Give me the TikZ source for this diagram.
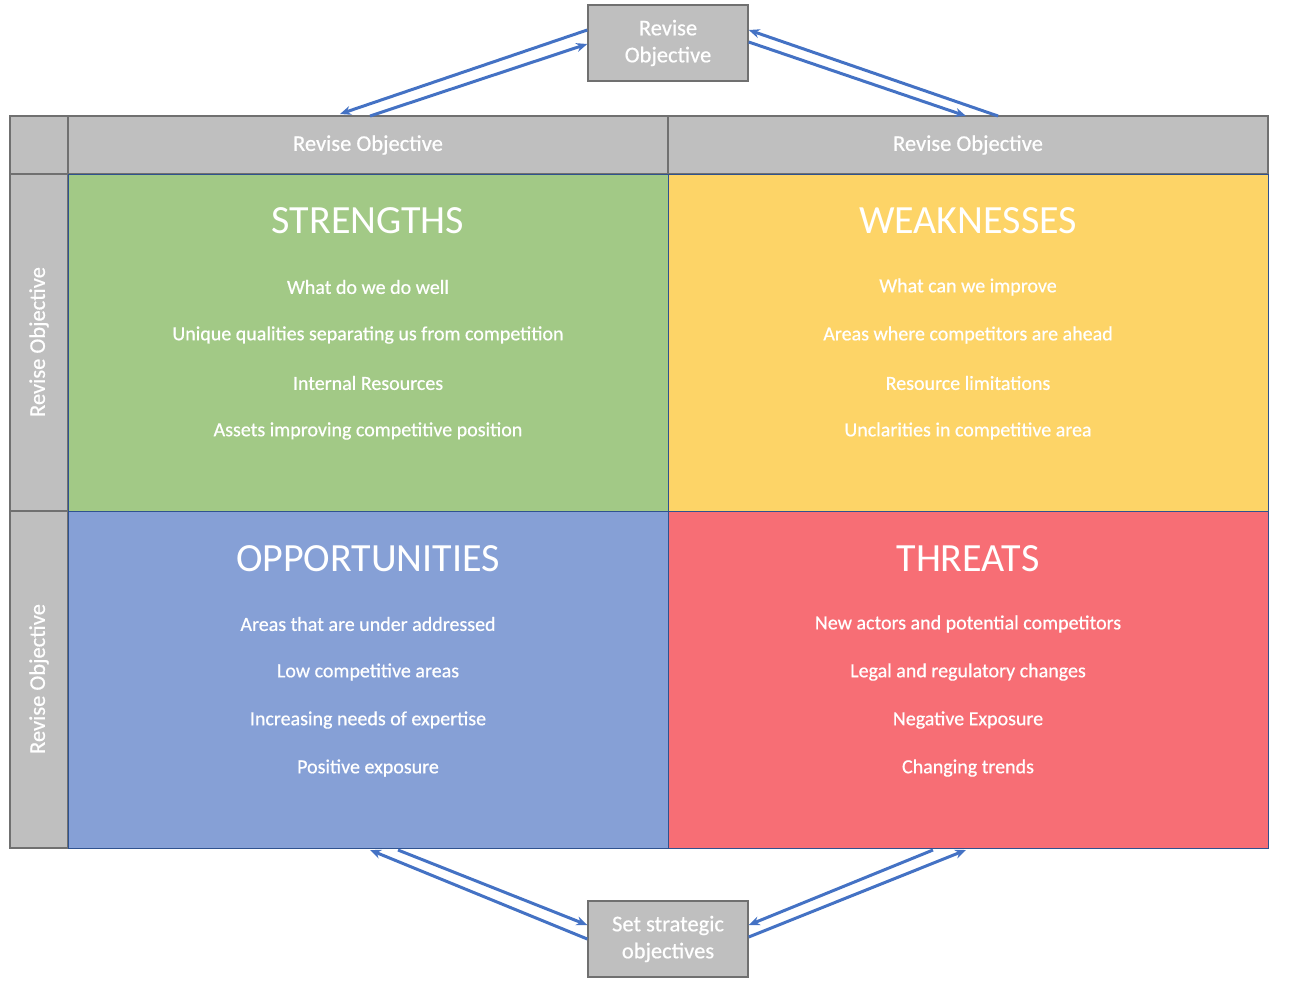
\documentclass[tikz,border=0pt]{standalone}
\usepackage{fontspec}
\setmainfont{Carlito}
\newfontfamily\boldish[FakeBold=0.6]{Carlito}
\usetikzlibrary{arrows.meta}
\definecolor{cgray}{HTML}{BFBFBF}
\definecolor{cgrayline}{HTML}{707070}
\definecolor{cgreen}{HTML}{A2C986}
\definecolor{cyellow}{HTML}{FDD467}
\definecolor{cblue}{HTML}{86A0D6}
\definecolor{cred}{HTML}{F76E75}
\definecolor{cquadline}{HTML}{2F528F}
\definecolor{carrow}{HTML}{4472C4}
\begin{document}
\begin{tikzpicture}[x=1pt,y=-1pt,
  graycell/.style={draw=cgrayline,fill=cgray,line width=1.4pt},
  quad/.style={draw=cquadline,line width=1pt},
  celltext/.style={text=white,font=\boldish\fontsize{22.5}{27}\selectfont},
  headtext/.style={text=white,font=\fontsize{40}{44}\selectfont},
  itemtext/.style={text=white,font=\boldish\fontsize{20}{24}\selectfont},
  flow/.style={draw=carrow,line width=3pt,-{Stealth[length=11pt,width=9pt]}}]
\useasboundingbox (0,0) rectangle (1290,988);
% gray header cells
\draw[graycell] (10,116) rectangle (68,174);
\draw[graycell] (68,116) rectangle (668,174);
\draw[graycell] (668,116) rectangle (1268,174);
\draw[graycell] (10,174) rectangle (68,511);
\draw[graycell] (10,511) rectangle (68,848);
\node[celltext] (h1) at (368,145) {Revise Objective};
\node[celltext] (h2) at (968,145) {Revise Objective};
\node[celltext,rotate=90] (v1) at (39,342) {Revise Objective};
\node[celltext,rotate=90] (v2) at (39,679) {Revise Objective};
% quadrants
\draw[quad,fill=cgreen] (68,174) rectangle (668,511);
\draw[quad,fill=cyellow] (668,174) rectangle (1268,511);
\draw[quad,fill=cblue] (68,511) rectangle (668,848);
\draw[quad,fill=cred] (668,511) rectangle (1268,848);
% strengths
\node[headtext] (s) at (368,221) {STRENGTHS};
\node[itemtext] (s1) at (368,287) {What do we do well};
\node[itemtext] (s2) at (368,335) {Unique qualities separating us from competition};
\node[itemtext] (s3) at (368,383) {Internal Resources};
\node[itemtext] (s4) at (368,431) {Assets improving competitive position};
% weaknesses
\node[headtext] (w) at (968,221) {WEAKNESSES};
\node[itemtext] (w1) at (968,287) {What can we improve};
\node[itemtext] (w2) at (968,335) {Areas where competitors are ahead};
\node[itemtext] (w3) at (968,383) {Resource limitations};
\node[itemtext] (w4) at (968,431) {Unclarities in competitive area};
% opportunities
\node[headtext] (o) at (368,559) {OPPORTUNITIES};
\node[itemtext] (o1) at (368,624) {Areas that are under addressed};
\node[itemtext] (o2) at (368,672) {Low competitive areas};
\node[itemtext] (o3) at (368,720) {Increasing needs of expertise};
\node[itemtext] (o4) at (368,768) {Positive exposure};
% threats
\node[headtext] (t) at (968,559) {THREATS};
\node[itemtext] (t1) at (968,624) {New actors and potential competitors};
\node[itemtext] (t2) at (968,672) {Legal and regulatory changes};
\node[itemtext] (t3) at (968,720) {Negative Exposure};
\node[itemtext] (t4) at (968,768) {Changing trends};
% top and bottom boxes
\node[graycell,minimum width=160pt,minimum height=76pt,inner sep=0pt,celltext,align=center] (top) at (668,43) {Revise\\Objective};
\node[graycell,minimum width=160pt,minimum height=76pt,inner sep=0pt,celltext,align=center] (bot) at (668,939) {Set strategic\\objectives};
% anchor coordinates
\coordinate (tl1) at (340,114);
\coordinate (tl2) at (370,116);
\coordinate (tr1) at (966,116);
\coordinate (tr2) at (998,116);
\coordinate (bl1) at (398,850);
\coordinate (bl2) at (370,850);
\coordinate (br1) at (933,850);
\coordinate (br2) at (966,850);
% arrows
\draw[flow] ([yshift=13pt]top.west) -- (tl1);
\draw[flow] (tl2) -- ([yshift=-1pt]top.west);
\draw[flow] ([yshift=1pt]top.east) -- (tr1);
\draw[flow] (tr2) -- ([yshift=13pt]top.east);
\draw[flow] (bl1) -- ([yshift=14pt]bot.west);
\draw[flow] (bot.west) -- (bl2);
\draw[flow] (br1) -- ([yshift=14pt]bot.east);
\draw[flow] ([yshift=2pt]bot.east) -- (br2);
\end{tikzpicture}
\end{document}
